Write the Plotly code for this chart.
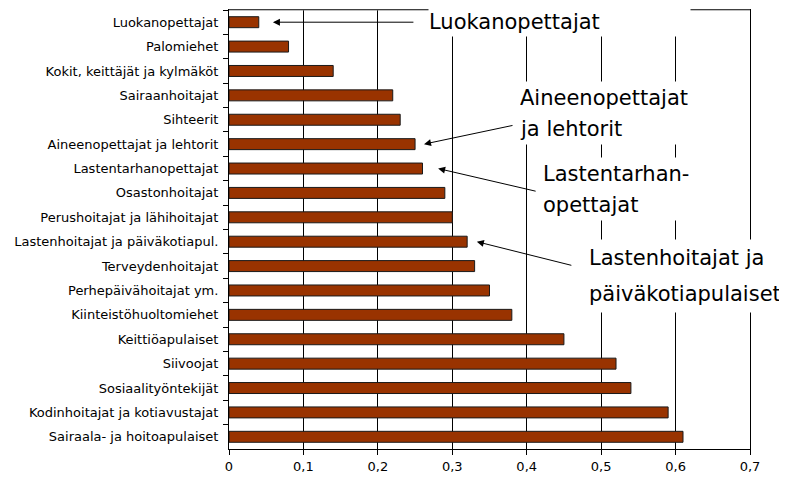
import plotly.graph_objects as go

categories = [
    "Luokanopettajat", "Palomiehet", "Kokit, keittäjät ja kylmäköt", "Sairaanhoitajat",
    "Sihteerit", "Aineenopettajat ja lehtorit", "Lastentarhanopettajat", "Osastonhoitajat",
    "Perushoitajat ja lähihoitajat", "Lastenhoitajat ja päiväkotiapul.", "Terveydenhoitajat",
    "Perhepäivähoitajat ym.", "Kiinteistöhuoltomiehet", "Keittiöapulaiset", "Siivoojat",
    "Sosiaalityöntekijät", "Kodinhoitajat ja kotiavustajat", "Sairaala- ja hoitoapulaiset",
]
values = [0.04, 0.08, 0.14, 0.22, 0.23, 0.25, 0.26, 0.29, 0.30, 0.32, 0.33,
          0.35, 0.38, 0.45, 0.52, 0.54, 0.59, 0.61]
tick_vals = [0, 0.1, 0.2, 0.3, 0.4, 0.5, 0.6, 0.7]
tick_text = ["0", "0,1", "0,2", "0,3", "0,4", "0,5", "0,6", "0,7"]

# callouts: (category pointed at, text lines)
callouts = [
    ("Luokanopettajat", ["Luokanopettajat"]),
    ("Aineenopettajat ja lehtorit", ["Aineenopettajat", "ja lehtorit"]),
    ("Lastentarhanopettajat", ["Lastentarhan-", "opettajat"]),
    ("Lastenhoitajat ja päiväkotiapul.", ["Lastenhoitajat ja", "päiväkotiapulaiset"]),
]

OFF = 8  # page body margin
W, H = 779, 471
L, R, T, B = 221, 37, 2, 30
pw, ph = W - L - R, H - T - B

def px2paper(x, y):
    x -= OFF
    y -= OFF
    return (x - L) / pw, (H - B - y) / ph

fig = go.Figure()
fig.add_trace(go.Bar(
    x=values, y=categories, orientation="h",
    marker=dict(color="#993300", line=dict(color="#1a1a1a", width=1)),
    width=0.45,
))

FONT = "DejaVu Sans, Verdana, sans-serif"
ann = []
# arrows (empty text, tail offset in pixels)
arrow_specs = [  # (category index, gap after bar value, ax, ay)
    (0, 0.019, 142, 0),
    (5, 0.012, 90, -19),
    (6, 0.021, 99, 23),
    (9, 0.013, 96, 24),
]
for idx, gap, ax, ay in arrow_specs:
    ann.append(dict(x=values[idx] + gap, y=categories[idx], xref="x", yref="y",
                    text="", showarrow=True, ax=ax, ay=ay,
                    arrowhead=2, arrowsize=1.4, arrowwidth=1, arrowcolor="black"))

# text boxes: (lines, left px, top px, box width, line height)
text_boxes = [
    (callouts[0][1], 428, 7, 261, 29),
    (callouts[1][1], 519, 82, 185, 31),
    (callouts[2][1], 542, 158, 165, 31),
    (callouts[3][1], 588, 240, 199, 36),
]
for lines, left, top, bw, lh in text_boxes:
    for i, line in enumerate(lines):
        yc = top + lh * i + lh / 2
        xp, yp = px2paper(left, yc)
        ann.append(dict(x=xp, y=yp, xref="paper", yref="paper", xanchor="left", yanchor="middle",
                        text=line, showarrow=False, align="left", width=bw, height=lh,
                        borderpad=0, bgcolor="white",
                        font=dict(family=FONT, size=21, color="black")))

fig.update_layout(
    width=W, height=H,
    margin=dict(l=L, r=R, t=T, b=B),
    paper_bgcolor="white", plot_bgcolor="white",
    showlegend=False,
    font=dict(family=FONT, size=13, color="black"),
    annotations=ann,
    shapes=[dict(type="line", xref="x", yref="paper", x0=0, x1=0.7, y0=1, y1=1,
                 line=dict(color="#808080", width=1), layer="above")],
)
fig.update_xaxes(range=[0, 0.7], tickvals=tick_vals, ticktext=tick_text,
                 showgrid=True, gridcolor="black", gridwidth=1,
                 showline=True, linecolor="black", linewidth=1, mirror=True,
                 ticks="outside", ticklen=5, tickcolor="black",
                 zeroline=False, tickfont=dict(size=13), automargin=False)
fig.update_yaxes(categoryorder="array", categoryarray=categories,
                 range=[len(categories) - 0.5, -0.5],
                 showline=True, linecolor="black", linewidth=1, mirror=True,
                 ticks="outside", ticklen=5, tickcolor="black", tickson="boundaries",
                 showgrid=False, tickfont=dict(size=13), ticklabelstandoff=7,
                 automargin=False)

fig.write_html("out.html")
